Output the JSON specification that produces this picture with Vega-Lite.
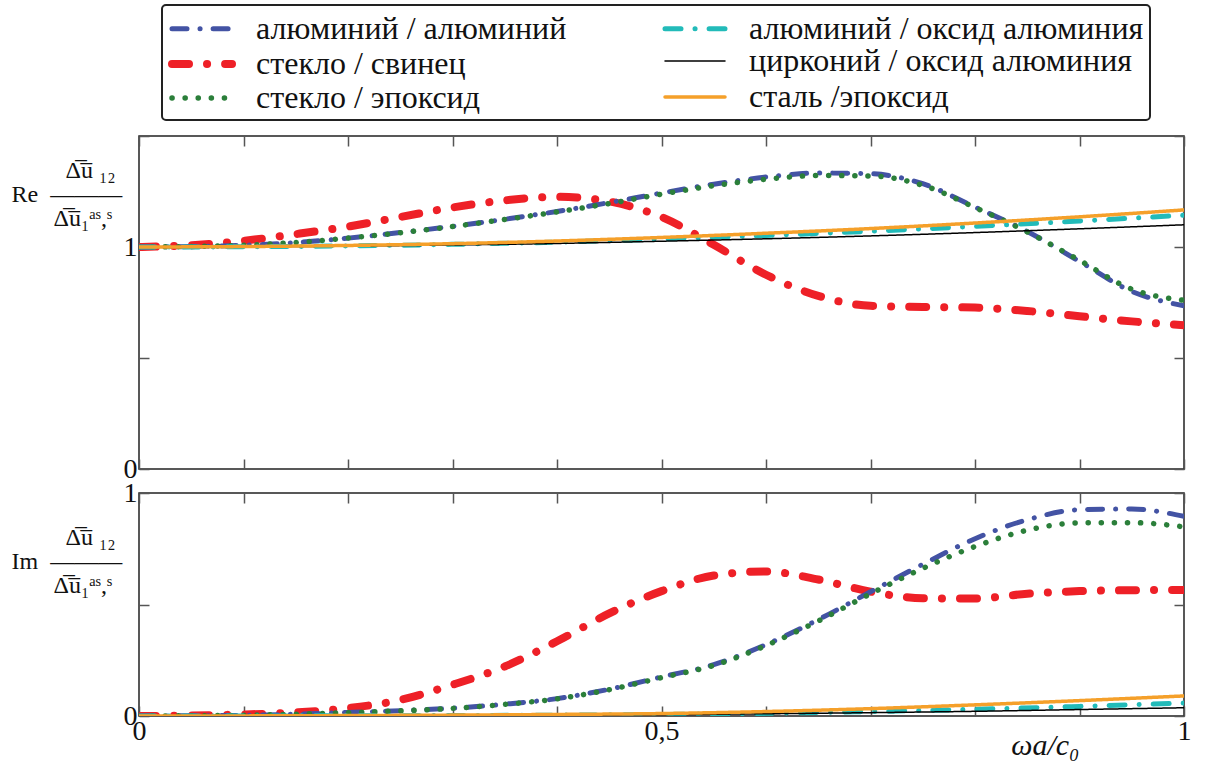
{
  "$schema": "https://vega.github.io/schema/vega-lite/v6.json",
  "padding": {"left": 10, "top": 4, "right": 5, "bottom": 5},
  "bounds": "flush",
  "spacing": 24,
  "data": {"values": [
    {"s":"стекло / свинец","p":"Re","x":0,"v":1},{"s":"стекло / свинец","p":"Re","x":0.05,"v":1.008},{"s":"стекло / свинец","p":"Re","x":0.1,"v":1.028},{"s":"стекло / свинец","p":"Re","x":0.15,"v":1.058},{"s":"стекло / свинец","p":"Re","x":0.2,"v":1.092},{"s":"стекло / свинец","p":"Re","x":0.25,"v":1.135},{"s":"стекло / свинец","p":"Re","x":0.3,"v":1.178},{"s":"стекло / свинец","p":"Re","x":0.35,"v":1.21},{"s":"стекло / свинец","p":"Re","x":0.4,"v":1.226},{"s":"стекло / свинец","p":"Re","x":0.45,"v":1.205},{"s":"стекло / свинец","p":"Re","x":0.5,"v":1.135},{"s":"стекло / свинец","p":"Re","x":0.55,"v":1.01},{"s":"стекло / свинец","p":"Re","x":0.6,"v":0.875},{"s":"стекло / свинец","p":"Re","x":0.65,"v":0.78},{"s":"стекло / свинец","p":"Re","x":0.7,"v":0.735},{"s":"стекло / свинец","p":"Re","x":0.75,"v":0.73},{"s":"стекло / свинец","p":"Re","x":0.8,"v":0.727},{"s":"стекло / свинец","p":"Re","x":0.85,"v":0.712},{"s":"стекло / свинец","p":"Re","x":0.9,"v":0.688},{"s":"стекло / свинец","p":"Re","x":0.95,"v":0.665},{"s":"стекло / свинец","p":"Re","x":1,"v":0.648},
    {"s":"алюминий / алюминий","p":"Re","x":0,"v":1},{"s":"алюминий / алюминий","p":"Re","x":0.05,"v":1.002},{"s":"алюминий / алюминий","p":"Re","x":0.1,"v":1.008},{"s":"алюминий / алюминий","p":"Re","x":0.15,"v":1.02},{"s":"алюминий / алюминий","p":"Re","x":0.2,"v":1.04},{"s":"алюминий / алюминий","p":"Re","x":0.25,"v":1.065},{"s":"алюминий / алюминий","p":"Re","x":0.3,"v":1.093},{"s":"алюминий / алюминий","p":"Re","x":0.35,"v":1.125},{"s":"алюминий / алюминий","p":"Re","x":0.4,"v":1.16},{"s":"алюминий / алюминий","p":"Re","x":0.45,"v":1.2},{"s":"алюминий / алюминий","p":"Re","x":0.5,"v":1.243},{"s":"алюминий / алюминий","p":"Re","x":0.55,"v":1.283},{"s":"алюминий / алюминий","p":"Re","x":0.6,"v":1.315},{"s":"алюминий / алюминий","p":"Re","x":0.65,"v":1.333},{"s":"алюминий / алюминий","p":"Re","x":0.7,"v":1.33},{"s":"алюминий / алюминий","p":"Re","x":0.75,"v":1.285},{"s":"алюминий / алюминий","p":"Re","x":0.8,"v":1.18},{"s":"алюминий / алюминий","p":"Re","x":0.85,"v":1.07},{"s":"алюминий / алюминий","p":"Re","x":0.9,"v":0.935},{"s":"алюминий / алюминий","p":"Re","x":0.95,"v":0.8},{"s":"алюминий / алюминий","p":"Re","x":1,"v":0.735},
    {"s":"стекло / эпоксид","p":"Re","x":0,"v":1},{"s":"стекло / эпоксид","p":"Re","x":0.05,"v":1.002},{"s":"стекло / эпоксид","p":"Re","x":0.1,"v":1.008},{"s":"стекло / эпоксид","p":"Re","x":0.15,"v":1.02},{"s":"стекло / эпоксид","p":"Re","x":0.2,"v":1.04},{"s":"стекло / эпоксид","p":"Re","x":0.25,"v":1.064},{"s":"стекло / эпоксид","p":"Re","x":0.3,"v":1.092},{"s":"стекло / эпоксид","p":"Re","x":0.35,"v":1.124},{"s":"стекло / эпоксид","p":"Re","x":0.4,"v":1.158},{"s":"стекло / эпоксид","p":"Re","x":0.45,"v":1.196},{"s":"стекло / эпоксид","p":"Re","x":0.5,"v":1.238},{"s":"стекло / эпоксид","p":"Re","x":0.55,"v":1.276},{"s":"стекло / эпоксид","p":"Re","x":0.6,"v":1.305},{"s":"стекло / эпоксид","p":"Re","x":0.65,"v":1.322},{"s":"стекло / эпоксид","p":"Re","x":0.7,"v":1.32},{"s":"стекло / эпоксид","p":"Re","x":0.75,"v":1.278},{"s":"стекло / эпоксид","p":"Re","x":0.8,"v":1.178},{"s":"стекло / эпоксид","p":"Re","x":0.85,"v":1.068},{"s":"стекло / эпоксид","p":"Re","x":0.9,"v":0.94},{"s":"стекло / эпоксид","p":"Re","x":0.95,"v":0.81},{"s":"стекло / эпоксид","p":"Re","x":1,"v":0.76},
    {"s":"алюминий / оксид алюминия","p":"Re","x":0,"v":1},{"s":"алюминий / оксид алюминия","p":"Re","x":0.1,"v":1.001},{"s":"алюминий / оксид алюминия","p":"Re","x":0.2,"v":1.005},{"s":"алюминий / оксид алюминия","p":"Re","x":0.3,"v":1.012},{"s":"алюминий / оксид алюминия","p":"Re","x":0.4,"v":1.022},{"s":"алюминий / оксид алюминия","p":"Re","x":0.5,"v":1.036},{"s":"алюминий / оксид алюминия","p":"Re","x":0.6,"v":1.052},{"s":"алюминий / оксид алюминия","p":"Re","x":0.7,"v":1.071},{"s":"алюминий / оксид алюминия","p":"Re","x":0.8,"v":1.093},{"s":"алюминий / оксид алюминия","p":"Re","x":0.9,"v":1.117},{"s":"алюминий / оксид алюминия","p":"Re","x":1,"v":1.143},
    {"s":"цирконий / оксид алюминия","p":"Re","x":0,"v":1},{"s":"цирконий / оксид алюминия","p":"Re","x":0.1,"v":1.001},{"s":"цирконий / оксид алюминия","p":"Re","x":0.2,"v":1.004},{"s":"цирконий / оксид алюминия","p":"Re","x":0.3,"v":1.009},{"s":"цирконий / оксид алюминия","p":"Re","x":0.4,"v":1.016},{"s":"цирконий / оксид алюминия","p":"Re","x":0.5,"v":1.026},{"s":"цирконий / оксид алюминия","p":"Re","x":0.6,"v":1.037},{"s":"цирконий / оксид алюминия","p":"Re","x":0.7,"v":1.05},{"s":"цирконий / оксид алюминия","p":"Re","x":0.8,"v":1.065},{"s":"цирконий / оксид алюминия","p":"Re","x":0.9,"v":1.082},{"s":"цирконий / оксид алюминия","p":"Re","x":1,"v":1.1},
    {"s":"сталь /эпоксид","p":"Re","x":0,"v":1},{"s":"сталь /эпоксид","p":"Re","x":0.1,"v":1.002},{"s":"сталь /эпоксид","p":"Re","x":0.2,"v":1.007},{"s":"сталь /эпоксид","p":"Re","x":0.3,"v":1.015},{"s":"сталь /эпоксид","p":"Re","x":0.4,"v":1.027},{"s":"сталь /эпоксид","p":"Re","x":0.5,"v":1.043},{"s":"сталь /эпоксид","p":"Re","x":0.6,"v":1.062},{"s":"сталь /эпоксид","p":"Re","x":0.7,"v":1.083},{"s":"сталь /эпоксид","p":"Re","x":0.8,"v":1.108},{"s":"сталь /эпоксид","p":"Re","x":0.9,"v":1.136},{"s":"сталь /эпоксид","p":"Re","x":1,"v":1.167},

    {"s":"стекло / свинец","p":"Im","x":0,"v":0},{"s":"стекло / свинец","p":"Im","x":0.05,"v":0.002},{"s":"стекло / свинец","p":"Im","x":0.1,"v":0.007},{"s":"стекло / свинец","p":"Im","x":0.15,"v":0.016},{"s":"стекло / свинец","p":"Im","x":0.2,"v":0.035},{"s":"стекло / свинец","p":"Im","x":0.25,"v":0.072},{"s":"стекло / свинец","p":"Im","x":0.3,"v":0.14},{"s":"стекло / свинец","p":"Im","x":0.35,"v":0.222},{"s":"стекло / свинец","p":"Im","x":0.4,"v":0.335},{"s":"стекло / свинец","p":"Im","x":0.45,"v":0.46},{"s":"стекло / свинец","p":"Im","x":0.5,"v":0.56},{"s":"стекло / свинец","p":"Im","x":0.55,"v":0.63},{"s":"стекло / свинец","p":"Im","x":0.6,"v":0.648},{"s":"стекло / свинец","p":"Im","x":0.65,"v":0.612},{"s":"стекло / свинец","p":"Im","x":0.7,"v":0.558},{"s":"стекло / свинец","p":"Im","x":0.75,"v":0.528},{"s":"стекло / свинец","p":"Im","x":0.8,"v":0.527},{"s":"стекло / свинец","p":"Im","x":0.85,"v":0.548},{"s":"стекло / свинец","p":"Im","x":0.9,"v":0.56},{"s":"стекло / свинец","p":"Im","x":0.95,"v":0.564},{"s":"стекло / свинец","p":"Im","x":1,"v":0.565},
    {"s":"алюминий / алюминий","p":"Im","x":0,"v":0},{"s":"алюминий / алюминий","p":"Im","x":0.05,"v":0.001},{"s":"алюминий / алюминий","p":"Im","x":0.1,"v":0.003},{"s":"алюминий / алюминий","p":"Im","x":0.15,"v":0.008},{"s":"алюминий / алюминий","p":"Im","x":0.2,"v":0.016},{"s":"алюминий / алюминий","p":"Im","x":0.25,"v":0.024},{"s":"алюминий / алюминий","p":"Im","x":0.3,"v":0.035},{"s":"алюминий / алюминий","p":"Im","x":0.35,"v":0.053},{"s":"алюминий / алюминий","p":"Im","x":0.4,"v":0.078},{"s":"алюминий / алюминий","p":"Im","x":0.45,"v":0.12},{"s":"алюминий / алюминий","p":"Im","x":0.5,"v":0.175},{"s":"алюминий / алюминий","p":"Im","x":0.55,"v":0.23},{"s":"алюминий / алюминий","p":"Im","x":0.6,"v":0.32},{"s":"алюминий / алюминий","p":"Im","x":0.65,"v":0.432},{"s":"алюминий / алюминий","p":"Im","x":0.7,"v":0.557},{"s":"алюминий / алюминий","p":"Im","x":0.75,"v":0.68},{"s":"алюминий / алюминий","p":"Im","x":0.8,"v":0.795},{"s":"алюминий / алюминий","p":"Im","x":0.85,"v":0.88},{"s":"алюминий / алюминий","p":"Im","x":0.9,"v":0.925},{"s":"алюминий / алюминий","p":"Im","x":0.95,"v":0.928},{"s":"алюминий / алюминий","p":"Im","x":1,"v":0.895},
    {"s":"стекло / эпоксид","p":"Im","x":0,"v":0},{"s":"стекло / эпоксид","p":"Im","x":0.05,"v":0.001},{"s":"стекло / эпоксид","p":"Im","x":0.1,"v":0.003},{"s":"стекло / эпоксид","p":"Im","x":0.15,"v":0.008},{"s":"стекло / эпоксид","p":"Im","x":0.2,"v":0.015},{"s":"стекло / эпоксид","p":"Im","x":0.25,"v":0.023},{"s":"стекло / эпоксид","p":"Im","x":0.3,"v":0.034},{"s":"стекло / эпоксид","p":"Im","x":0.35,"v":0.052},{"s":"стекло / эпоксид","p":"Im","x":0.4,"v":0.077},{"s":"стекло / эпоксид","p":"Im","x":0.45,"v":0.118},{"s":"стекло / эпоксид","p":"Im","x":0.5,"v":0.172},{"s":"стекло / эпоксид","p":"Im","x":0.55,"v":0.227},{"s":"стекло / эпоксид","p":"Im","x":0.6,"v":0.316},{"s":"стекло / эпоксид","p":"Im","x":0.65,"v":0.426},{"s":"стекло / эпоксид","p":"Im","x":0.7,"v":0.548},{"s":"стекло / эпоксид","p":"Im","x":0.75,"v":0.662},{"s":"стекло / эпоксид","p":"Im","x":0.8,"v":0.76},{"s":"стекло / эпоксид","p":"Im","x":0.85,"v":0.833},{"s":"стекло / эпоксид","p":"Im","x":0.9,"v":0.866},{"s":"стекло / эпоксид","p":"Im","x":0.95,"v":0.867},{"s":"стекло / эпоксид","p":"Im","x":1,"v":0.848},
    {"s":"алюминий / оксид алюминия","p":"Im","x":0,"v":0},{"s":"алюминий / оксид алюминия","p":"Im","x":0.1,"v":0.0003},{"s":"алюминий / оксид алюминия","p":"Im","x":0.2,"v":0.001},{"s":"алюминий / оксид алюминия","p":"Im","x":0.3,"v":0.002},{"s":"алюминий / оксид алюминия","p":"Im","x":0.4,"v":0.004},{"s":"алюминий / оксид алюминия","p":"Im","x":0.5,"v":0.007},{"s":"алюминий / оксид алюминия","p":"Im","x":0.6,"v":0.012},{"s":"алюминий / оксид алюминия","p":"Im","x":0.7,"v":0.02},{"s":"алюминий / оксид алюминия","p":"Im","x":0.8,"v":0.03},{"s":"алюминий / оксид алюминия","p":"Im","x":0.9,"v":0.043},{"s":"алюминий / оксид алюминия","p":"Im","x":1,"v":0.058},
    {"s":"цирконий / оксид алюминия","p":"Im","x":0,"v":0},{"s":"цирконий / оксид алюминия","p":"Im","x":0.1,"v":0.0003},{"s":"цирконий / оксид алюминия","p":"Im","x":0.2,"v":0.001},{"s":"цирконий / оксид алюминия","p":"Im","x":0.3,"v":0.002},{"s":"цирконий / оксид алюминия","p":"Im","x":0.4,"v":0.004},{"s":"цирконий / оксид алюминия","p":"Im","x":0.5,"v":0.006},{"s":"цирконий / оксид алюминия","p":"Im","x":0.6,"v":0.01},{"s":"цирконий / оксид алюминия","p":"Im","x":0.7,"v":0.015},{"s":"цирконий / оксид алюминия","p":"Im","x":0.8,"v":0.021},{"s":"цирконий / оксид алюминия","p":"Im","x":0.9,"v":0.029},{"s":"цирконий / оксид алюминия","p":"Im","x":1,"v":0.037},
    {"s":"сталь /эпоксид","p":"Im","x":0,"v":0},{"s":"сталь /эпоксид","p":"Im","x":0.1,"v":0.0005},{"s":"сталь /эпоксид","p":"Im","x":0.2,"v":0.002},{"s":"сталь /эпоксид","p":"Im","x":0.3,"v":0.004},{"s":"сталь /эпоксид","p":"Im","x":0.4,"v":0.007},{"s":"сталь /эпоксид","p":"Im","x":0.5,"v":0.011},{"s":"сталь /эпоксид","p":"Im","x":0.6,"v":0.02},{"s":"сталь /эпоксид","p":"Im","x":0.7,"v":0.033},{"s":"сталь /эпоксид","p":"Im","x":0.8,"v":0.05},{"s":"сталь /эпоксид","p":"Im","x":0.9,"v":0.069},{"s":"сталь /эпоксид","p":"Im","x":1,"v":0.09}
  ]},
  "vconcat": [
    {
      "width": 1045, "height": 333,
      "transform": [{"filter": "datum.p == 'Re'"}],
      "layer": [
        {
          "mark": {"type": "line", "strokeCap": "round", "interpolate": "monotone", "clip": true},
          "encoding": {
            "x": {"field": "x", "type": "quantitative", "scale": {"domain": [0, 1], "nice": false},
                  "axis": {"orient": "bottom", "values": [0,0.1,0.2,0.3,0.4,0.5,0.6,0.7,0.8,0.9,1], "labels": false, "title": null}},
            "y": {"field": "v", "type": "quantitative", "scale": {"domain": [0, 1.5], "nice": false, "zero": false},
                  "axis": {"orient": "left", "values": [0, 0.5, 1, 1.5], "labelExpr": "datum.value == 0 ? '0' : datum.value == 1 ? '1' : ''",
                           "title": ["\u200b\u00a0\u00a0\u00a0\u00a0\u00a0\u00a0\u00a0\u00a0\u00a0Δ\u0305u\u0305 ₁₂", "Re\u00a0\u00a0———", "\u200b\u00a0\u00a0\u00a0\u00a0\u00a0\u00a0\u00a0Δ\u0305u\u0305₁ᵃˢ,ˢ"],
                           "titleAngle": 0, "titleAlign": "left", "titleBaseline": "middle", "titleX": -128, "titleY": 34, "titleLineHeight": 24}},
            "color": {"field": "s", "type": "nominal",
                      "scale": {"domain": ["алюминий / алюминий", "стекло / свинец", "стекло / эпоксид", "алюминий / оксид алюминия", "цирконий / оксид алюминия", "сталь /эпоксид"],
                                "range": ["#4353a4", "#ee2027", "#2b7f3a", "#22bbb9", "#000000", "#f5a02a"]},
                      "legend": {"title": null, "encode": {"symbols": {"update": {"strokeCap": {"value": "round"}}}}}},
            "strokeDash": {"field": "s", "type": "nominal",
                      "scale": {"domain": ["алюминий / алюминий", "стекло / свинец", "стекло / эпоксид", "алюминий / оксид алюминия", "цирконий / оксид алюминия", "сталь /эпоксид"],
                                "range": [[15, 13, 0.1, 13], [17, 18, 0.1, 18], [0.1, 13], [16, 14, 0.1, 14], [1, 0], [1, 0]]},
                      "legend": {"title": null}},
            "strokeWidth": {"field": "s", "type": "nominal",
                      "scale": {"type": "ordinal", "domain": ["алюминий / алюминий", "стекло / свинец", "стекло / эпоксид", "алюминий / оксид алюминия", "цирконий / оксид алюминия", "сталь /эпоксид"],
                                "range": [5, 8, 5.5, 5, 1.5, 3.5]},
                      "legend": {"title": null}}
          }
        },
        {
          "mark": {"type": "line", "opacity": 0},
          "encoding": {
            "x": {"field": "x", "type": "quantitative", "axis": {"orient": "top", "values": [0,0.1,0.2,0.3,0.4,0.5,0.6,0.7,0.8,0.9,1], "labels": false, "title": null}},
            "y": {"field": "v", "type": "quantitative", "axis": {"orient": "right", "values": [0, 0.5, 1, 1.5], "labels": false, "title": null}},
            "detail": {"field": "s"}
          }
        }
      ],
      "resolve": {"axis": {"x": "independent", "y": "independent"}}
    },
    {
      "width": 1045, "height": 223,
      "transform": [{"filter": "datum.p == 'Im'"}],
      "layer": [
        {
          "mark": {"type": "line", "strokeCap": "round", "interpolate": "monotone", "clip": true},
          "encoding": {
            "x": {"field": "x", "type": "quantitative", "scale": {"domain": [0, 1], "nice": false},
                  "axis": {"orient": "bottom", "values": [0,0.1,0.2,0.3,0.4,0.5,0.6,0.7,0.8,0.9,1], "labelPadding": 11,
                           "labelExpr": "datum.value == 0 ? '0' : datum.value == 0.5 ? '0,5' : datum.value == 1 ? '1' : ''",
                           "title": "ωa/c₀", "titleFontStyle": "italic", "titleFontSize": 30, "titleFontWeight": "normal",
                           "titleAlign": "right", "titleBaseline": "alphabetic", "titleX": 940, "titleY": 38}},
            "y": {"field": "v", "type": "quantitative", "scale": {"domain": [0, 1], "nice": false},
                  "axis": {"orient": "left", "values": [0, 0.5, 1], "labelExpr": "datum.value == 0 ? '0' : datum.value == 1 ? '1' : ''",
                           "title": ["\u200b\u00a0\u00a0\u00a0\u00a0\u00a0\u00a0\u00a0\u00a0\u00a0Δ\u0305u\u0305 ₁₂", "Im\u00a0\u00a0———", "\u200b\u00a0\u00a0\u00a0\u00a0\u00a0\u00a0\u00a0Δ\u0305u\u0305₁ᵃˢ,ˢ"],
                           "titleAngle": 0, "titleAlign": "left", "titleBaseline": "middle", "titleX": -128, "titleY": 44, "titleLineHeight": 24}},
            "color": {"field": "s", "type": "nominal",
                      "scale": {"domain": ["алюминий / алюминий", "стекло / свинец", "стекло / эпоксид", "алюминий / оксид алюминия", "цирконий / оксид алюминия", "сталь /эпоксид"],
                                "range": ["#4353a4", "#ee2027", "#2b7f3a", "#22bbb9", "#000000", "#f5a02a"]},
                      "legend": {"title": null, "encode": {"symbols": {"update": {"strokeCap": {"value": "round"}}}}}},
            "strokeDash": {"field": "s", "type": "nominal",
                      "scale": {"domain": ["алюминий / алюминий", "стекло / свинец", "стекло / эпоксид", "алюминий / оксид алюминия", "цирконий / оксид алюминия", "сталь /эпоксид"],
                                "range": [[15, 13, 0.1, 13], [17, 18, 0.1, 18], [0.1, 13], [16, 14, 0.1, 14], [1, 0], [1, 0]]},
                      "legend": {"title": null}},
            "strokeWidth": {"field": "s", "type": "nominal",
                      "scale": {"type": "ordinal", "domain": ["алюминий / алюминий", "стекло / свинец", "стекло / эпоксид", "алюминий / оксид алюминия", "цирконий / оксид алюминия", "сталь /эпоксид"],
                                "range": [5, 8, 5.5, 5, 1.5, 3.5]},
                      "legend": {"title": null}}
          }
        },
        {
          "mark": {"type": "line", "opacity": 0},
          "encoding": {
            "x": {"field": "x", "type": "quantitative", "axis": {"orient": "top", "values": [0,0.1,0.2,0.3,0.4,0.5,0.6,0.7,0.8,0.9,1], "labels": false, "title": null}},
            "y": {"field": "v", "type": "quantitative", "axis": {"orient": "right", "values": [0, 0.5, 1], "labels": false, "title": null}},
            "detail": {"field": "s"}
          }
        }
      ],
      "resolve": {"axis": {"x": "independent", "y": "independent"}}
    }
  ],
  "resolve": {"scale": {"color": "shared", "strokeDash": "shared", "strokeWidth": "shared"}, "legend": {"color": "shared", "strokeDash": "shared", "strokeWidth": "shared"}},
  "config": {
    "font": "Liberation Serif",
    "view": {"stroke": "#222222", "strokeWidth": 1.5},
    "axis": {"grid": false, "domain": false, "ticks": true, "tickColor": "#555555", "tickWidth": 1.5, "tickSize": -10,
             "labelFont": "Liberation Serif", "labelFontSize": 28, "labelColor": "#111111", "labelPadding": 12, "labelFlush": false,
             "titleFont": "Liberation Serif", "titleFontSize": 24, "titleFontWeight": "normal", "titleColor": "#111111"},
    "legend": {"orient": "none", "legendX": 23, "legendY": -131, "columns": 2, "symbolType": "M-1,0H3", "symbolSize": 900,
               "labelFont": "Liberation Serif", "labelFontSize": 32, "labelOffset": 50, "labelColor": "#111111", "labelLimit": 0,
               "columnPadding": 88, "rowPadding": -1, "padding": 6, "strokeColor": "#222222", "strokeWidth": 2, "cornerRadius": 4, "fillColor": "white"}
  }
}
